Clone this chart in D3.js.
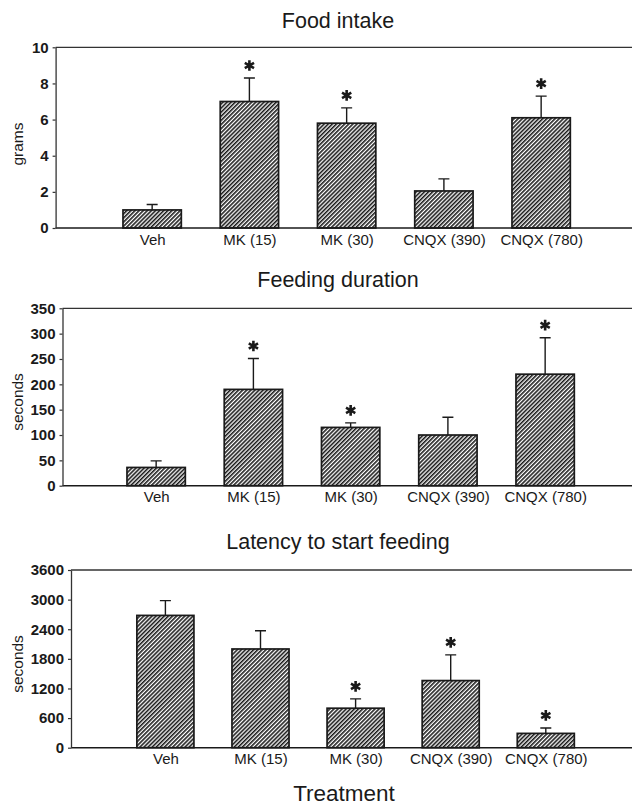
<!DOCTYPE html>
<html>
<head>
<meta charset="utf-8">
<script src="https://cdn.jsdelivr.net/npm/d3@7"></script>
<style>
  body { margin: 0; background: #fff; }
  svg { display: block; font-family: "Liberation Sans", Arial, sans-serif; }
</style>
</head>
<body>
<svg width="632" height="805"></svg>
<script>
// treatment groups shared by all three panels
var categories = ["Veh", "MK (15)", "MK (30)", "CNQX (390)", "CNQX (780)"];

// Food intake (grams)
var intakeMean = [1.0, 7.0, 5.8, 2.05, 6.1];
var intakeSem = [0.3, 1.3, 0.85, 0.67, 1.2];
var intakeSig = [false, true, true, false, true];
var intakeTicks = [0, 2, 4, 6, 8, 10];

// Feeding duration (seconds)
var durationMean = [36, 190, 115, 100, 220];
var durationSem = [13, 61, 9, 35, 72];
var durationSig = [false, true, true, false, true];
var durationTicks = [0, 50, 100, 150, 200, 250, 300, 350];

// Latency to start feeding (seconds)
var latencyMean = [2680, 2000, 800, 1360, 290];
var latencySem = [300, 370, 190, 520, 110];
var latencySig = [false, false, true, true, true];
var latencyTicks = [0, 600, 1200, 1800, 2400, 3000, 3600];

var svg = d3.select("svg"),
    W = +svg.attr("width"),
    ink = "#1a1a1a";

// diagonal hatch used by every bar
var pat = svg.append("defs").append("pattern")
    .attr("id", "hatch")
    .attr("patternUnits", "userSpaceOnUse")
    .attr("width", 2.9)
    .attr("height", 10)
    .attr("patternTransform", "rotate(45)");
pat.append("rect").attr("width", 2.9).attr("height", 10).attr("fill", "#fff");
pat.append("line")
    .attr("x1", 0.8).attr("y1", 0).attr("x2", 0.8).attr("y2", 10)
    .attr("stroke", ink).attr("stroke-width", 1.6);

var panels = [
    { title: "Food intake", ylab: "grams", mean: intakeMean, sem: intakeSem, sig: intakeSig,
      ticks: intakeTicks, top: 47.3, bottom: 228, axisX: 55.6, left: 54.9, step: 97.25, titleY: 27.5, ylabY: 144 },
    { title: "Feeding duration", ylab: "seconds", mean: durationMean, sem: durationSem, sig: durationSig,
      ticks: durationTicks, top: 308.3, bottom: 485.7, axisX: 62.5, left: 58.9, step: 97.25, titleY: 287, ylabY: 402 },
    { title: "Latency to start feeding", ylab: "seconds", mean: latencyMean, sem: latencySem, sig: latencySig,
      ticks: latencyTicks, top: 570, bottom: 747.7, axisX: 71, left: 70.3, step: 95.1, titleY: 549, ylabY: 664 }
];

panels.forEach(function (p) {
    var data = categories.map(function (c, i) {
        return { name: c, pos: i + 1, mean: p.mean[i], sem: p.sem[i], sig: p.sig[i] };
    });

    var x = d3.scaleLinear()
        .domain([0, 1])
        .range([p.left, p.left + p.step]);

    var y = d3.scaleLinear()
        .domain([0, d3.max(p.ticks)])
        .range([p.bottom, p.top]);

    var bw = p.step * 0.6;
    var g = svg.append("g");

    // title
    g.append("text")
        .attr("x", 338)
        .attr("y", p.titleY)
        .attr("text-anchor", "middle")
        .attr("font-size", 21.5)
        .attr("fill", ink)
        .text(p.title);

    // y label
    g.append("text")
        .attr("transform", "translate(23," + p.ylabY + ") rotate(-90)")
        .attr("text-anchor", "middle")
        .attr("font-size", 15.5)
        .attr("fill", ink)
        .text(p.ylab);

    // bars
    g.selectAll(".bar")
        .data(data)
        .enter().append("rect")
        .attr("x", d => x(d.pos) - bw / 2)
        .attr("y", d => y(d.mean))
        .attr("width", bw)
        .attr("height", d => y(0) - y(d.mean))
        .attr("fill", "url(#hatch)")
        .attr("stroke", ink)
        .attr("stroke-width", 1.7);

    // upper error whiskers
    g.selectAll(".err")
        .data(data)
        .enter().append("path")
        .attr("fill", "none")
        .attr("stroke", ink)
        .attr("stroke-width", 1.4)
        .attr("d", d => {
            var cx = x(d.pos), y0 = y(d.mean), y1 = y(d.mean + d.sem);
            return "M" + cx + "," + y0 + "V" + y1 + "M" + (cx - 5.5) + "," + y1 + "H" + (cx + 5.5);
        });

    // significance stars
    g.selectAll(".star")
        .data(data.filter(d => d.sig))
        .enter().append("path")
        .attr("transform", d => "translate(" + x(d.pos) + "," + (y(d.mean + d.sem) - 12.5) + ")")
        .attr("d", d3.symbol(d3.symbolAsterisk, 80))
        .attr("fill", "none")
        .attr("stroke", ink)
        .attr("stroke-width", 2.6);

    // frame: top line and x baseline run to the page edge
    g.append("line")
        .attr("x1", p.axisX).attr("x2", W)
        .attr("y1", p.top).attr("y2", p.top)
        .attr("stroke", "#333").attr("stroke-width", 1.3);
    g.append("line")
        .attr("x1", p.axisX).attr("x2", W)
        .attr("y1", p.bottom).attr("y2", p.bottom)
        .attr("stroke", ink).attr("stroke-width", 1.6);

    // y axis
    var ya = g.append("g")
        .attr("transform", "translate(" + p.axisX + ",0)")
        .call(d3.axisLeft(y).tickValues(p.ticks).tickFormat(d3.format("d"))
            .tickSizeInner(3).tickSizeOuter(0).tickPadding(4));
    ya.select(".domain").attr("stroke", "#333").attr("stroke-width", 1.3);
    ya.selectAll(".tick line").attr("stroke", "#333").attr("stroke-width", 1.2);
    ya.selectAll(".tick text")
        .attr("font-family", "Liberation Sans, Arial, sans-serif")
        .attr("font-size", 15)
        .attr("font-weight", "bold")
        .attr("fill", ink);

    // category labels via a bottom axis without lines
    var xa = g.append("g")
        .attr("transform", "translate(0," + p.bottom + ")")
        .call(d3.axisBottom(x).tickValues(data.map(d => d.pos))
            .tickFormat((v, i) => categories[i]).tickSize(0).tickPadding(6));
    xa.select(".domain").remove();
    xa.selectAll(".tick text")
        .attr("font-family", "Liberation Sans, Arial, sans-serif")
        .attr("font-size", 15)
        .attr("fill", ink);
});

svg.append("text")
    .attr("x", 344)
    .attr("y", 801)
    .attr("text-anchor", "middle")
    .attr("font-size", 22.5)
    .attr("fill", ink)
    .text("Treatment");
</script>
</body>
</html>
